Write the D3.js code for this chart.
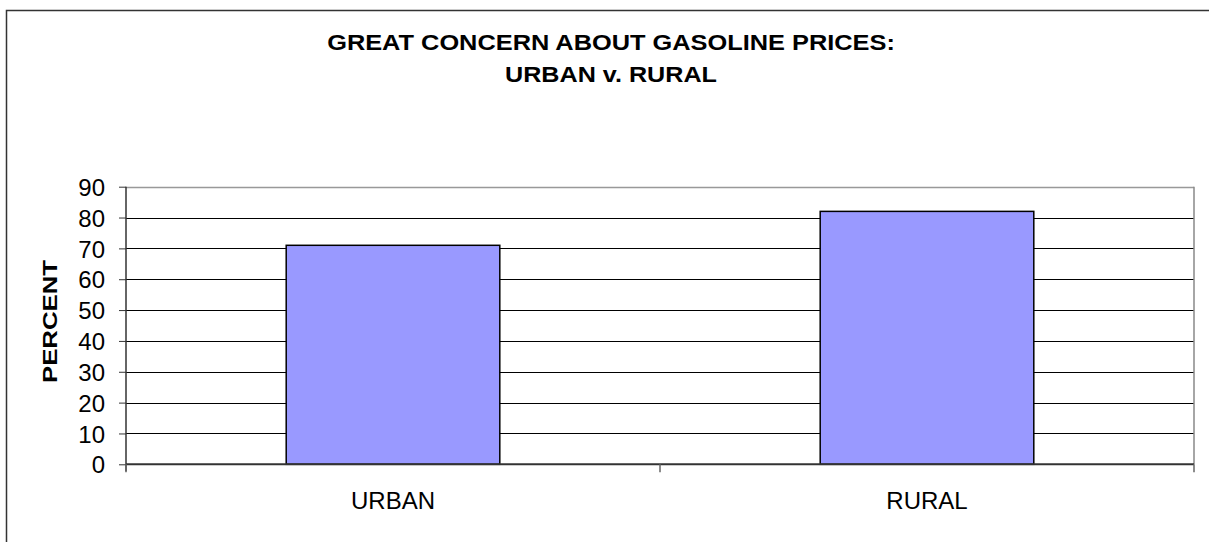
<!DOCTYPE html>
<html><head><meta charset="utf-8">
<script src="https://cdn.jsdelivr.net/npm/d3@7"></script>
<style>body{margin:0;background:#fff}svg{display:block}text{font-family:Arial,"Liberation Sans",sans-serif}</style>
</head><body>
<svg id="c" width="1209" height="542"></svg>
<script>
const categories = ["URBAN", "RURAL"];
const values = [71, 82];
const yTicks = [0, 10, 20, 30, 40, 50, 60, 70, 80, 90];
const titleLines = ["GREAT CONCERN ABOUT GASOLINE PRICES:", "URBAN v. RURAL"];
const yLabel = "PERCENT";

const svg = d3.select("#c");
const L = 126, R = 1194, T = 186.7, B = 464.3;
const FONT = "Arial, 'Liberation Sans', sans-serif";

svg.append("rect").attr("x", 6.5).attr("y", 10.5).attr("width", 1240).attr("height", 600)
  .attr("fill", "#fff").attr("stroke", "#333").attr("stroke-width", 1.5);

const x = d3.scaleBand().domain(categories).range([L, R]).paddingInner(0.6).paddingOuter(0.3);
const xs = d3.scaleBand().domain(categories).range([L, R]).padding(0);
const y = d3.scaleLinear().domain([0, 90]).range([B, T]);

// gridlines
svg.append("g").selectAll("line").data(yTicks.filter(d => d > 0 && d < 90)).join("line")
  .attr("x1", L).attr("x2", R).attr("y1", d => Math.round(y(d)) + 0.5).attr("y2", d => Math.round(y(d)) + 0.5)
  .attr("stroke", "#000").attr("stroke-width", 1);
// plot top and right borders
svg.append("line").attr("x1", L).attr("x2", R).attr("y1", Math.round(T) + 0.5).attr("y2", Math.round(T) + 0.5)
  .attr("stroke", "#999").attr("stroke-width", 1.5);
svg.append("line").attr("x1", R).attr("x2", R).attr("y1", T).attr("y2", B)
  .attr("stroke", "#888").attr("stroke-width", 1.5);

// bars
svg.append("g").selectAll("rect").data(values).join("rect")
  .attr("x", (d, i) => x(categories[i])).attr("width", x.bandwidth())
  .attr("y", d => y(d)).attr("height", d => y(0) - y(d))
  .attr("fill", "#9999ff").attr("stroke", "#000").attr("stroke-width", 1.5);

// y axis
const yAxis = d3.axisLeft(y).tickValues(yTicks).tickSize(7).tickPadding(14).tickSizeOuter(0);
const gy = svg.append("g").attr("transform", `translate(${L},0)`).call(yAxis);
gy.select(".domain").attr("stroke", "#333").attr("stroke-width", 1.5).attr("d", `M0,${T}V${B + 7}`);
gy.selectAll(".tick line").attr("stroke", "#333");
gy.selectAll(".tick text").attr("font-size", 24).attr("fill", "#000").attr("font-family", FONT).attr("dy", "0.36em");

// x axis
const gx = svg.append("g").attr("transform", `translate(0,${B})`)
  .call(d3.axisBottom(x).tickSize(0).tickPadding(28));
gx.select(".domain").attr("stroke", "#333").attr("stroke-width", 2).attr("d", `M${L},0H${R}`);
gx.selectAll(".tick text").attr("font-size", 24).attr("fill", "#000").attr("font-family", FONT);
// category boundary ticks
const bounds = [L, ...categories.slice(1).map(c => xs(c)), R];
svg.append("g").selectAll("line").data(bounds).join("line")
  .attr("x1", d => d).attr("x2", d => d).attr("y1", B).attr("y2", B + 8)
  .attr("stroke", "#666").attr("stroke-width", 1.5);

// title (horizontally stretched like the reference)
const titleW = [568, 212];
svg.append("g").selectAll("text").data(titleLines).join("text")
  .attr("text-anchor", "middle").attr("font-weight", "bold").attr("font-size", 21.5)
  .text(d => d)
  .each(function (d, i) {
    const w = this.getComputedTextLength();
    const s = titleW[i] / w;
    d3.select(this).attr("transform", `translate(611,${50 + i * 31.7}) scale(${s},1)`);
  });

// y label
svg.append("text").attr("text-anchor", "middle")
  .attr("font-weight", "bold").attr("font-size", 21).text(yLabel)
  .each(function () {
    const s = 123 / this.getComputedTextLength();
    d3.select(this).attr("transform", `translate(57,321.5) rotate(-90) scale(${s},1)`);
  });
</script>
</body></html>
